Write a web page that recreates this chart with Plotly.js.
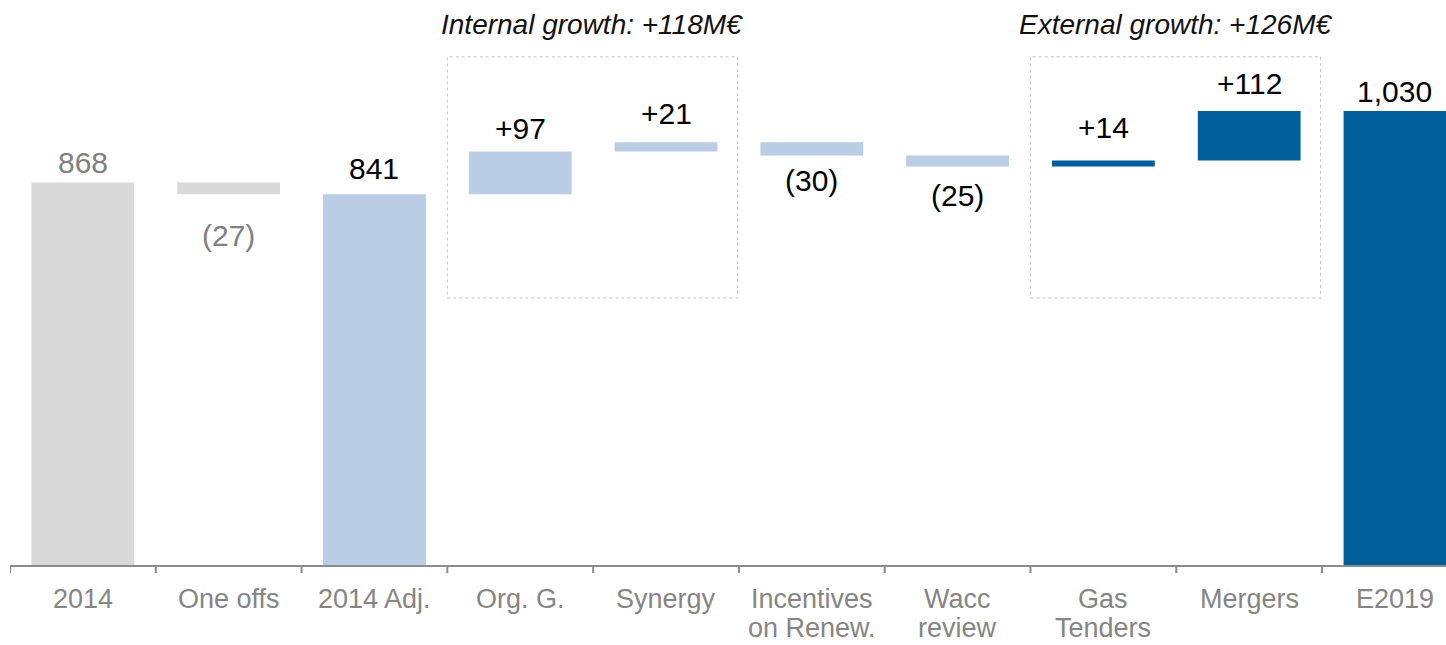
<!DOCTYPE html>
<html>
<head>
<meta charset="utf-8">
<script src="https://cdn.plot.ly/plotly-3.0.1.min.js"></script>
<style>
  html, body { margin: 0; padding: 0; background: #ffffff; }
  #chart { width: 1446px; height: 645px; }
</style>
</head>
<body>
<div id="chart"></div>
<script>
// Bridge categories (tick labels, one entry per text line) and step kind of each bar
const categories = [['2014'], ['One offs'], ['2014 Adj.'], ['Org. G.'], ['Synergy'],
                    ['Incentives', 'on Renew.'], ['Wacc', 'review'], ['Gas', 'Tenders'], ['Mergers'], ['E2019']];
const kinds  = ['total', 'delta', 'total', 'delta', 'delta', 'delta', 'delta', 'delta', 'delta', 'total'];
// Values in M€: totals are levels, deltas are changes
const values = [868, -27, 841, 97, 21, -30, -25, 14, 112, 1030];

// Growth groups (indices of the delta bars they cover)
const groupNames   = ['Internal growth', 'External growth'];
const groupMembers = [[3, 4], [7, 8]];

// Styling
const GREY = '#d9d9d9', LIGHT = '#b9cde5', DARK = '#005f9a';
const AXIS = '#8c8c8c', TICKTXT = '#858585';
const barColors   = [GREY, GREY, LIGHT, LIGHT, LIGHT, LIGHT, LIGHT, DARK, DARK, DARK];
const labelColors = ['#808080', '#808080', '#000', '#000', '#000', '#000', '#000', '#000', '#000', '#000'];
const labelGap    = [20, 41, 26, 23, 29, 25, 29, 33, 28, 20];   // px between bar end and label centre
const FONT = 'Liberation Sans, Arial, sans-serif';

// Floating bar geometry
const bases = [], heights = [], ends = [];
let running = 0;
values.forEach((v, i) => {
  if (kinds[i] === 'total') { bases.push(0); heights.push(v); running = v; ends.push(v); }
  else { bases.push(running); heights.push(v); running += v; ends.push(running); }
});

function fmt(v, kind) {
  if (kind === 'total') return v.toLocaleString('en-US');
  return v >= 0 ? '+' + v : '(' + Math.abs(v) + ')';
}

const xs = categories.map((c, i) => i);

// Value labels
const annotations = values.map((v, i) => ({
  x: xs[i], y: ends[i], xref: 'x', yref: 'y',
  text: fmt(v, kinds[i]), showarrow: false,
  yanchor: 'middle', yshift: v >= 0 ? labelGap[i] : -labelGap[i],
  font: { family: FONT, size: 30, color: labelColors[i] }
}));

// Category labels under the axis, one line each
categories.forEach((lines, i) => {
  lines.forEach((line, k) => {
    annotations.push({
      x: xs[i], y: 0, xref: 'x', yref: 'paper', showarrow: false,
      yanchor: 'middle', yshift: -34 - 29 * k,
      text: line, font: { family: FONT, size: 27, color: TICKTXT }
    });
  });
});

// Dashed group frames with their headings
const shapes = [];
groupMembers.forEach((m, g) => {
  const total = m.reduce((s, i) => s + values[i], 0);
  const x0 = m[0] - 0.5, x1 = m[m.length - 1] + 0.49;
  shapes.push({
    type: 'rect', xref: 'x', yref: 'y', x0: x0, x1: x1, y0: 606, y1: 1153,
    line: { color: '#c4c4c4', width: 1, dash: 'dot' }, fillcolor: 'rgba(0,0,0,0)'
  });
  annotations.push({
    x: (x0 + x1) / 2, y: 1227, xref: 'x', yref: 'y', showarrow: false,
    xanchor: 'center', yanchor: 'middle',
    text: '<i>' + groupNames[g] + ': +' + total + 'M€</i>',
    font: { family: FONT, size: 28, color: '#111' }
  });
});

// Tick marks on category boundaries
xs.forEach(i => {
  shapes.push({
    type: 'line', xref: 'x', yref: 'paper', x0: i - 0.5, x1: i - 0.5, y0: 0, y1: -8 / 565,
    line: { color: AXIS, width: 2 }
  });
});

const trace = {
  type: 'bar',
  x: xs,
  y: heights,
  base: bases,
  width: 0.705,
  marker: { color: barColors, line: { width: 0 } },
  hoverinfo: 'skip'
};

const layout = {
  width: 1446, height: 645,
  margin: { l: 10, r: 0, t: 0, b: 80 },
  paper_bgcolor: '#fff', plot_bgcolor: '#fff',
  showlegend: false,
  xaxis: {
    type: 'linear', range: [-0.5, 9.35],
    showticklabels: false, ticks: '', showgrid: false, zeroline: false,
    showline: true, linecolor: AXIS, linewidth: 2,
    fixedrange: true
  },
  yaxis: {
    range: [0, 1282], visible: false, fixedrange: true
  },
  shapes: shapes,
  annotations: annotations
};

Plotly.newPlot('chart', [trace], layout, { displayModeBar: false, staticPlot: true });
</script>
</body>
</html>
